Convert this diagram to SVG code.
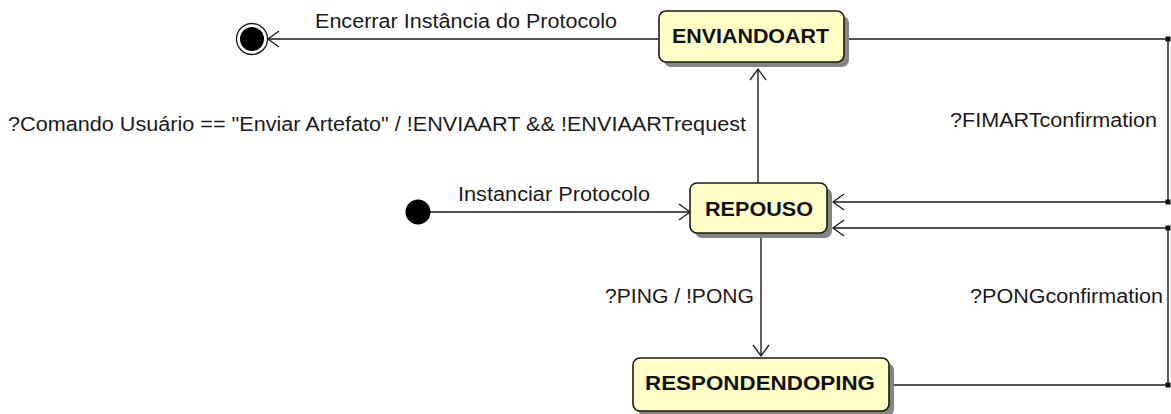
<svg xmlns="http://www.w3.org/2000/svg" width="1171" height="414" viewBox="0 0 1171 414">
<style>
.node rect.box{fill:#ffffc6;stroke:#1a1a1a;stroke-width:1.6}
.node rect.shadow{fill:#858585;stroke:none}
.nlabel{font-family:"Liberation Sans",Arial,sans-serif;font-weight:bold;font-size:21px;fill:#111}
.elabel{font-family:"Liberation Sans",Arial,sans-serif;font-size:20px;fill:#1a1a1a}
.edge{fill:none;stroke:#1a1a1a;stroke-width:1.4}
.dot{fill:#111}
</style>
<defs>
<marker id="arr" markerUnits="userSpaceOnUse" markerWidth="24" markerHeight="24" refX="0" refY="0" viewBox="-14 -12 16 24" orient="auto">
<path d="M-11,-8 L0,0 L-11,8" fill="none" stroke="#1a1a1a" stroke-width="1.3"/>
</marker>
</defs>
<rect width="1171" height="414" fill="#fff"/>
<g id="connectors">
<path class="edge" d="M659,39 L268,39" marker-end="url(#arr)"/>
<path class="edge" d="M849,39 L1168,39 L1168,202 L833,202" marker-end="url(#arr)"/>
<path class="edge" d="M889,385 L1168,385 L1168,228 L833,228" marker-end="url(#arr)"/>
<path class="edge" d="M758,183 L758,69" marker-end="url(#arr)"/>
<path class="edge" d="M761,238 L761,356" marker-end="url(#arr)"/>
<path class="edge" d="M418,212 L690,212" marker-end="url(#arr)"/>
<rect class="dot" x="1165.5" y="36.5" width="5" height="5"/>
<rect class="dot" x="1165.5" y="199.5" width="5" height="5"/>
<rect class="dot" x="1165.5" y="225.5" width="5" height="5"/>
<rect class="dot" x="1165.5" y="382.5" width="5" height="5"/>
<text class="elabel" x="315" y="28" textLength="302" lengthAdjust="spacingAndGlyphs">Encerrar Instância do Protocolo</text>
<text class="elabel" x="8" y="131" textLength="738" lengthAdjust="spacingAndGlyphs">?Comando Usuário == "Enviar Artefato" / !ENVIAART &amp;&amp; !ENVIAARTrequest</text>
<text class="elabel" x="458" y="201" textLength="192" lengthAdjust="spacingAndGlyphs">Instanciar Protocolo</text>
<text class="elabel" x="950" y="127" textLength="207" lengthAdjust="spacingAndGlyphs">?FIMARTconfirmation</text>
<text class="elabel" x="605" y="303" textLength="149" lengthAdjust="spacingAndGlyphs">?PING / !PONG</text>
<text class="elabel" x="970" y="303" textLength="193" lengthAdjust="spacingAndGlyphs">?PONGconfirmation</text>
</g>
<g id="initial">
<circle cx="418" cy="212" r="12.5" fill="#000"/>
</g>
<g id="final">
<circle cx="252" cy="39" r="15.5" fill="#fff" stroke="#1a1a1a" stroke-width="1.3"/>
<circle cx="252" cy="39" r="12" fill="#000"/>
</g>
<g id="enviandoart" class="node">
<rect class="shadow" x="664" y="16" width="185" height="51" rx="7"/>
<rect class="box" x="659" y="11" width="185" height="51" rx="7"/>
<text class="nlabel" x="672" y="43" textLength="157" lengthAdjust="spacingAndGlyphs">ENVIANDOART</text>
</g>
<g id="repouso" class="node">
<rect class="shadow" x="695" y="188" width="137" height="50" rx="7"/>
<rect class="box" x="690" y="183" width="137" height="50" rx="7"/>
<text class="nlabel" x="705" y="216" textLength="108" lengthAdjust="spacingAndGlyphs">REPOUSO</text>
</g>
<g id="respondendoping" class="node">
<rect class="shadow" x="638" y="363" width="256" height="53" rx="7"/>
<rect class="box" x="633" y="358" width="256" height="53" rx="7"/>
<text class="nlabel" x="645" y="390" textLength="230" lengthAdjust="spacingAndGlyphs">RESPONDENDOPING</text>
</g>
</svg>
